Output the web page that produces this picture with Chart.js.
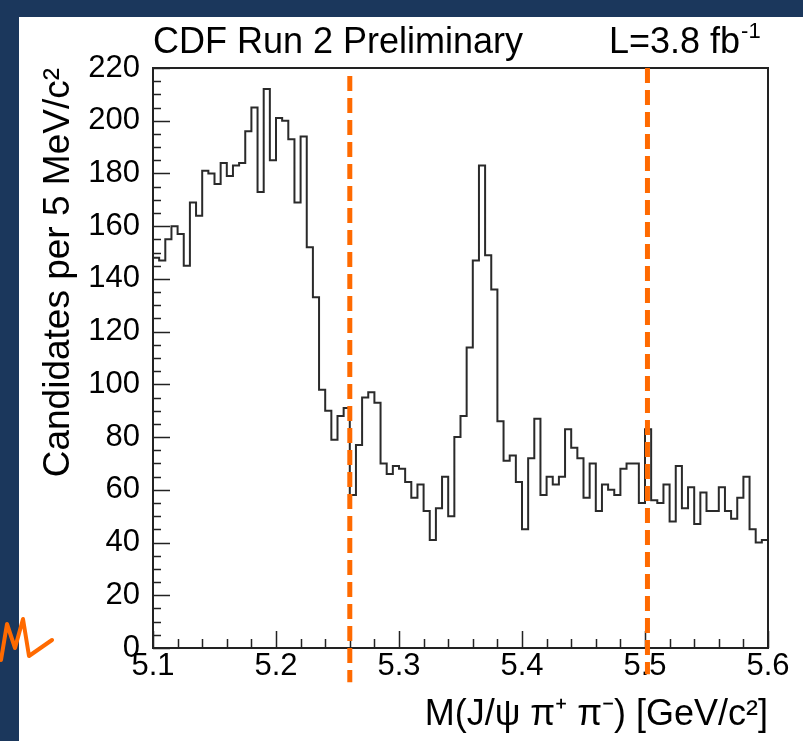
<!DOCTYPE html>
<html>
<head>
<meta charset="utf-8">
<script src="https://cdn.jsdelivr.net/npm/chart.js@4.4.1/dist/chart.umd.min.js"></script>
<style>
  html, body { margin: 0; padding: 0; background: #1b375c; }
  canvas { display: block; }
</style>
</head>
<body>
<canvas id="hist" width="803" height="741"></canvas>
<script>
// J/psi pi+ pi- candidates, 5 MeV bins from 5.1 to 5.6 GeV/c^2
const binLow = 5.1;
const binWidth = 0.005;
const counts = [
  148, 147, 155, 160, 157, 145, 169, 164, 181, 180,
  176, 184, 179, 183, 184, 196, 205, 173, 212, 185,
  201, 200, 193, 169, 194, 152, 133, 98, 90, 79,
  88, 91, 58, 77, 95, 97, 93, 70, 66, 69,
  68, 63, 57, 62, 52, 41, 53, 65, 50, 80,
  88, 114, 147, 183, 149, 136, 86, 71, 73, 63,
  45, 72, 87, 58, 65, 62, 65, 83, 76, 72,
  57, 70, 52, 62, 60, 58, 68, 70, 70, 55,
  83, 56, 55, 62, 48, 69, 53, 61, 47, 59,
  52, 52, 61, 52, 49, 57, 65, 45, 40, 41
];
const xTickValues = [5.1, 5.2, 5.3, 5.4, 5.5, 5.6];
const xTickLabels = ['5.1', '5.2', '5.3', '5.4', '5.5', '5.6'];
const yTickValues = [0, 20, 40, 60, 80, 100, 120, 140, 160, 180, 200, 220];

// hand drawn orange cut lines (mass, top and bottom ends in counts units)
const cutMasses = [5.26, 5.502];
const cutTops = [217, 220];
const cutBottoms = [-13, -10];

const FONT = '"Liberation Sans", Arial, Helvetica, sans-serif';

// one point per bin low edge, plus the upper edge of the last bin
const points = counts.map((c, i) => ({ x: binLow + i * binWidth, y: c }));
points.push({ x: binLow + counts.length * binWidth, y: counts[counts.length - 1] });

const panelPlugin = {
  id: 'panel',
  beforeDraw(chart) {
    const ctx = chart.ctx;
    ctx.save();
    ctx.fillStyle = '#1b375c';
    ctx.fillRect(0, 0, chart.width, chart.height);
    ctx.fillStyle = '#ffffff';
    ctx.fillRect(19, 17, chart.width - 19, chart.height - 17);
    ctx.restore();
  }
};

const framePlugin = {
  id: 'frame',
  afterDatasetsDraw(chart) {
    const { ctx, chartArea: a, scales: { x, y } } = chart;
    ctx.save();
    ctx.strokeStyle = '#222';
    ctx.lineWidth = 1.5;
    ctx.beginPath();
    // y ticks, every 5, long every 20
    for (let v = 0; v <= 220; v += 5) {
      const py = Math.round(y.getPixelForValue(v)) + 0.5;
      const len = v % 20 === 0 ? 17 : 8;
      ctx.moveTo(a.left, py);
      ctx.lineTo(a.left + len, py);
    }
    // x ticks, every 0.02, long every 0.1
    for (let k = 0; k <= 25; k++) {
      const px = Math.round(x.getPixelForValue(binLow + k * 0.02)) + 0.5;
      const len = k % 5 === 0 ? 17 : 9;
      ctx.moveTo(px, a.bottom);
      ctx.lineTo(px, a.bottom - len);
    }
    ctx.stroke();
    ctx.lineWidth = 2;
    ctx.strokeRect(a.left, a.top, a.right - a.left, a.bottom - a.top);
    ctx.restore();
  },
  afterDraw(chart) {
    const { ctx, scales: { x, y } } = chart;
    ctx.save();
    // title texts
    ctx.fillStyle = '#000';
    ctx.textBaseline = 'alphabetic';
    ctx.textAlign = 'left';
    ctx.font = '36px ' + FONT;
    ctx.fillText('CDF Run 2 Preliminary', 153, 53);
    const lum = 'L=3.8 fb';
    ctx.fillText(lum, 609, 53);
    const w = ctx.measureText(lum).width;
    ctx.font = '22px ' + FONT;
    ctx.fillText('-1', 609 + w + 1, 38);

    // orange dashed cut lines
    ctx.strokeStyle = '#ff6a00';
    ctx.lineWidth = 5;
    ctx.setLineDash([15, 7]);
    cutMasses.forEach((m, i) => {
      const px = x.getPixelForValue(m);
      ctx.beginPath();
      ctx.moveTo(px, y.getPixelForValue(cutTops[i]));
      ctx.lineTo(px, y.getPixelForValue(cutBottoms[i]));
      ctx.stroke();
    });

    // handwritten scribble at lower left
    ctx.setLineDash([]);
    ctx.lineWidth = 4;
    ctx.lineCap = 'round';
    ctx.lineJoin = 'round';
    ctx.beginPath();
    ctx.moveTo(1, 660);
    ctx.lineTo(7, 624);
    ctx.lineTo(15, 648);
    ctx.lineTo(23, 619);
    ctx.lineTo(29, 656);
    ctx.lineTo(52, 640);
    ctx.stroke();
    ctx.restore();
  }
};

new Chart(document.getElementById('hist'), {
  type: 'line',
  data: {
    datasets: [{
      data: points,
      stepped: 'before',
      borderColor: '#2a2a2a',
      borderWidth: 2,
      pointRadius: 0,
      fill: false,
      tension: 0
    }]
  },
  options: {
    responsive: false,
    animation: false,
    devicePixelRatio: 1,
    layout: { padding: { left: 19, top: 68, right: 35, bottom: 0 } },
    plugins: { legend: { display: false }, tooltip: { enabled: false } },
    scales: {
      x: {
        type: 'linear',
        min: 5.1,
        max: 5.6,
        grid: { display: false, drawTicks: false },
        border: { display: false },
        afterBuildTicks: s => { s.ticks = xTickValues.map(v => ({ value: v })); },
        afterFit: s => { s.height = 93; },
        ticks: {
          autoSkip: false,
          maxRotation: 0,
          padding: 0,
          color: '#000',
          font: { family: FONT, size: 31 },
          callback: (v, i) => xTickLabels[i]
        },
        title: {
          display: true,
          text: 'M(J/ψ π⁺ π⁻) [GeV/c²]',
          align: 'end',
          color: '#000',
          font: { family: FONT, size: 36 },
          padding: { top: 0, bottom: 4 }
        }
      },
      y: {
        min: 0,
        max: 220,
        grid: { display: false, drawTicks: false },
        border: { display: false },
        afterBuildTicks: s => { s.ticks = yTickValues.map(v => ({ value: v })); },
        afterFit: s => { s.width = 134; },
        ticks: {
          autoSkip: false,
          padding: 13,
          color: '#000',
          font: { family: FONT, size: 31 }
        },
        title: {
          display: true,
          text: 'Candidates per 5 MeV/c²',
          align: 'end',
          color: '#000',
          font: { family: FONT, size: 37 },
          padding: { top: 18, bottom: 0 }
        }
      }
    }
  },
  plugins: [panelPlugin, framePlugin]
});
</script>
</body>
</html>
